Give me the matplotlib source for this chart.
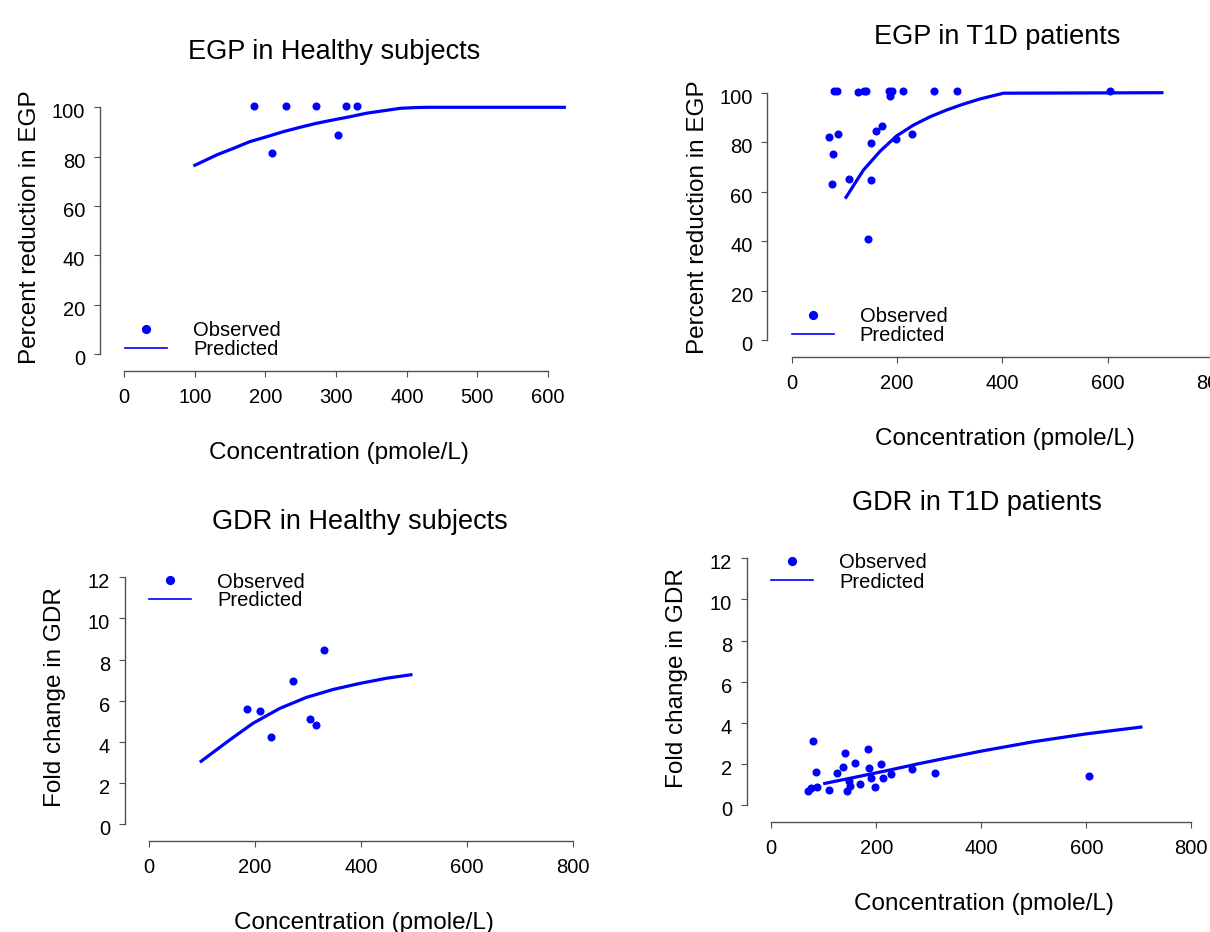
import matplotlib
matplotlib.use('Agg')
import matplotlib.pyplot as plt
from matplotlib.lines import Line2D
from matplotlib.transforms import ScaledTranslation

plt.rcParams['font.family'] = ['Liberation Sans', 'DejaVu Sans']

# ---------------- data ----------------
healthy_conc = [184, 209, 229, 272, 303, 314, 330]
egp_healthy_obs = [100.7, 81.5, 100.7, 100.7, 88.6, 100.7, 100.7]
gdr_healthy_obs = [5.61, 5.50, 4.22, 6.97, 5.10, 4.80, 8.48]

t1d_egp_conc = [71, 76, 78, 80, 86, 87, 109, 125, 137, 141, 145, 150,
                151, 160, 171, 185, 187, 191, 198, 211, 229, 270, 313, 604]
egp_t1d_obs = [82.2, 63.2, 75.1, 100.7, 100.7, 83.2, 65.0, 100.2, 100.7, 100.7, 40.7, 64.6,
               79.8, 84.4, 86.7, 100.7, 98.8, 100.7, 81.1, 100.7, 83.4, 100.7, 100.7, 100.7]

t1d_gdr_conc = [71, 75, 79, 85, 87, 110, 125, 136, 140, 145, 149, 150,
                160, 170, 184, 187, 191, 198, 210, 212, 229, 269, 312, 605]
gdr_t1d_obs = [0.67, 0.81, 3.11, 1.59, 0.88, 0.73, 1.54, 1.86, 2.51, 0.68, 1.18, 0.92,
               2.06, 1.04, 2.74, 1.80, 1.33, 0.88, 1.99, 1.30, 1.52, 1.75, 1.54, 1.41]

egp_healthy_pred_x = [100, 131, 155, 178, 202, 225, 249, 272, 296, 320, 343, 367, 391, 414, 430, 623]
egp_healthy_pred_y = [76.5, 80.7, 83.4, 86.1, 88.1, 90.1, 91.9, 93.5, 94.9, 96.2, 97.6, 98.6,
                      99.6, 99.9, 100, 100]

egp_t1d_pred_x = [103, 136, 168, 199, 231, 263, 294, 326, 358, 402, 703]
egp_t1d_pred_y = [57.7, 68.7, 76.4, 82.5, 86.9, 90.3, 93.0, 95.4, 97.5, 99.8, 100]

gdr_healthy_pred_x = [98, 152, 196, 247, 297, 348, 398, 448, 494]
gdr_healthy_pred_y = [3.05, 4.09, 4.90, 5.63, 6.16, 6.55, 6.84, 7.09, 7.26]

gdr_t1d_pred_x = [102, 156, 220, 283, 347, 400, 500, 600, 704]
gdr_t1d_pred_y = [1.05, 1.33, 1.67, 2.02, 2.35, 2.62, 3.08, 3.46, 3.79]

titles = ['EGP in Healthy subjects', 'EGP in T1D patients',
          'GDR in Healthy subjects', 'GDR in T1D patients']
ylabels = ['Percent reduction in EGP', 'Percent reduction in EGP',
           'Fold change in GDR', 'Fold change in GDR']
xlabel = 'Concentration (pmole/L)'
legend_labels = ['Observed', 'Predicted']
egp_yticks = [0, 20, 40, 60, 80, 100]
gdr_yticks = [0, 2, 4, 6, 8, 10, 12]
xticks_600 = [0, 100, 200, 300, 400, 500, 600]
xticks_800 = [0, 200, 400, 600, 800]

# ---------------- layout (pixels) ----------------
W, H = 1210, 932
BLUE = '#0000ff'
fig = plt.figure(figsize=(W / 100, H / 100), dpi=100)

panels = [
    dict(box=(124.2, 565.7, 107.3, 354.0), xlim=(0, 625), ylim=(0, 100),
         xt=xticks_600, yt=egp_yticks, ox=healthy_conc, oy=egp_healthy_obs,
         px=egp_healthy_pred_x, py=egp_healthy_pred_y,
         title=(334.6, 59.3), xl=(339.0, 459.3), yl=(36.5, 226.7), leg=(125.0, 321.2)),
    dict(box=(791.8, 1213.0, 92.7, 340.0), xlim=(0, 800), ylim=(0, 100),
         xt=xticks_800, yt=egp_yticks, ox=t1d_egp_conc, oy=egp_t1d_obs,
         px=egp_t1d_pred_x, py=egp_t1d_pred_y,
         title=(997.4, 44.3), xl=(1005.0, 445.0), yl=(704.3, 216.7), leg=(791.7, 306.8)),
    dict(box=(149.2, 573.0, 577.3, 824.0), xlim=(0, 800), ylim=(0, 12),
         xt=xticks_800, yt=gdr_yticks, ox=healthy_conc, oy=gdr_healthy_obs,
         px=gdr_healthy_pred_x, py=gdr_healthy_pred_y,
         title=(359.6, 529.3), xl=(363.8, 929.3), yl=(61.5, 696.7), leg=(149.2, 572.5)),
    dict(box=(771.2, 1191.3, 558.3, 805.0), xlim=(0, 800), ylim=(0, 12),
         xt=xticks_800, yt=gdr_yticks, ox=t1d_gdr_conc, oy=gdr_t1d_obs,
         px=gdr_t1d_pred_x, py=gdr_t1d_pred_y,
         title=(977.4, 510.0), xl=(983.8, 910.0), yl=(682.9, 678.0), leg=(771.2, 553.5)),
]

for i, p in enumerate(panels):
    l, r, t, b = p['box']
    ax = fig.add_axes([l / W, 1 - b / H, (r - l) / W, (b - t) / H])
    ax.set_xlim(*p['xlim'])
    ax.set_ylim(*p['ylim'])

    ax.plot(p['px'], p['py'], color=BLUE, lw=2.3, clip_on=False, zorder=3,
            solid_joinstyle='round')
    ax.plot(p['ox'], p['oy'], ls='none', marker='o', ms=4.8, color=BLUE,
            mec=BLUE, clip_on=False, zorder=4)

    for s in ('top', 'right'):
        ax.spines[s].set_visible(False)
    ax.spines['left'].set_position(('outward', 17.6))
    ax.spines['bottom'].set_position(('outward', 12.0))
    ax.spines['left'].set_bounds(p['yt'][0], p['yt'][-1])
    ax.spines['bottom'].set_bounds(p['xt'][0], p['xt'][-1])
    for s in ('left', 'bottom'):
        ax.spines[s].set_color('#505050')
        ax.spines[s].set_linewidth(1.0)

    ax.set_xticks(p['xt'])
    ax.set_yticks(p['yt'])
    ax.tick_params(direction='out', length=4, width=0.8, color='#505050',
                   labelsize=14.5)
    ax.tick_params(axis='x', pad=8.5)
    ax.tick_params(axis='y', pad=6.5)
    off = ScaledTranslation(0, -3.5 / 100, fig.dpi_scale_trans)
    for tk in ax.yaxis.get_major_ticks():
        tk.label1.set_transform(tk.label1.get_transform() + off)

    # title
    tx, ty = p['title']
    ax.set_title(titles[i], fontsize=19.5, x=(tx - l) / (r - l),
                 y=(b - ty) / (b - t), pad=0, va='baseline')

    # x label
    ax.set_xlabel(xlabel, fontsize=17.5)
    ax.xaxis.label.set(va='baseline', ha='center')
    ax.xaxis.set_label_coords(p['xl'][0] / W, 1 - p['xl'][1] / H,
                              transform=fig.transFigure)
    # y label
    ax.set_ylabel(ylabels[i], fontsize=17.5)
    ax.yaxis.label.set(rotation_mode='anchor', va='baseline', ha='center')
    ax.yaxis.set_label_coords(p['yl'][0] / W, 1 - p['yl'][1] / H,
                              transform=fig.transFigure)

    handles = [Line2D([], [], ls='none', marker='o', ms=5.6, color=BLUE),
               Line2D([], [], color=BLUE, lw=1.2)]
    lx, ly = p['leg']
    ax.legend(handles, legend_labels, loc='upper left',
              bbox_to_anchor=(lx / W, 1 - ly / H), bbox_transform=fig.transFigure,
              frameon=False, fontsize=14.5, handlelength=2.09, handletextpad=1.29,
              borderpad=0, borderaxespad=0, labelspacing=0.0, handleheight=0.7)

fig.savefig('out.png', dpi=100)
